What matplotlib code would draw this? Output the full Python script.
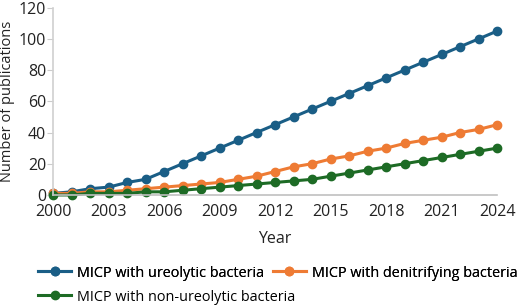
import numpy as np
import matplotlib.pyplot as plt

plt.rcParams['font.family'] = ['Open Sans', 'DejaVu Sans']

years = np.arange(2000, 2025)
ureolytic = [1, 2, 4, 5, 8, 10, 15, 20, 25, 30, 35, 40, 45, 50, 55, 60, 65, 70, 75, 80, 85, 90, 95, 100, 105]
denitrifying = [1, 1, 2, 2, 3, 4, 5, 6, 7, 8, 10, 12, 15, 18, 20, 23, 25, 28, 30, 33, 35, 37, 40, 42, 45]
non_ureolytic = [0, 0, 1, 1, 1, 2, 2, 3, 4, 5, 6, 7, 8, 9, 10, 12, 14, 16, 18, 20, 22, 24, 26, 28, 30]
xticks = [2000, 2003, 2006, 2009, 2012, 2015, 2018, 2021, 2024]

fig = plt.figure(figsize=(5.2, 3.07), dpi=100)
ax = fig.add_axes([0.102, 0.365, 0.854, 0.61])

style = dict(marker="o", markersize=6, linewidth=2.2, clip_on=False)
l1, = ax.plot(years, ureolytic, color="#1a5e86", label="MICP with ureolytic bacteria", **style)
l2, = ax.plot(years, denitrifying, color="#ee7b34", label="MICP with denitrifying bacteria", **style)
l3, = ax.plot(years, non_ureolytic, color="#1d6b25", label="MICP with non-ureolytic bacteria", **style)

ax.set_xlim(2000, 2024)
ax.set_ylim(0, 120)
ax.set_xticks(xticks)
ax.set_yticks(range(0, 121, 20))
ax.tick_params(axis="x", length=0, labelsize=11.5, pad=6.5, colors="#222222")
ax.tick_params(axis="y", length=4, width=0.8, color="#cccccc", labelsize=11.5, pad=1, labelcolor="#222222")
for s in ["top", "right"]:
    ax.spines[s].set_visible(False)
ax.spines["left"].set_color("#d0d0d0")
ax.spines["bottom"].set_color("#c0c0c0")
ax.spines["left"].set_linewidth(1.2)
ax.spines["bottom"].set_linewidth(1.2)
ax.set_xlabel("Year", fontsize=11.5, labelpad=8, color="#222222")
ax.set_ylabel("Number of publications", fontsize=10.5, labelpad=3, color="#222222")

leg_kw = dict(frameon=False, loc="upper left", fontsize=10.4, handlelength=2.3,
              handletextpad=0.4, columnspacing=0.6, borderpad=0, borderaxespad=0)
leg1 = fig.legend([l1, l2], [l1.get_label(), l2.get_label()], ncol=2,
                  bbox_to_anchor=(0.073, 0.135), **leg_kw)
fig.add_artist(leg1)
fig.legend([l3], [l3.get_label()], bbox_to_anchor=(0.073, 0.057), **leg_kw)

fig.savefig("out.png", dpi=100)
